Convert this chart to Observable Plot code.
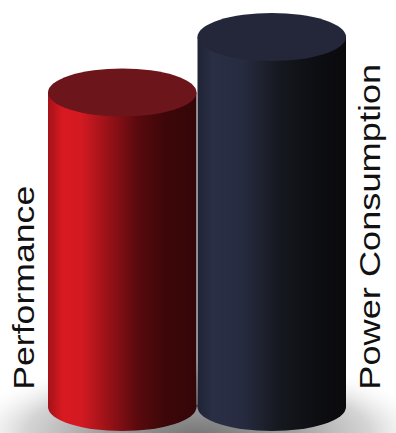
<!DOCTYPE html>
<html>
<head>
<meta charset="utf-8">
<script src="https://cdn.jsdelivr.net/npm/d3@7"></script>
<script src="https://cdn.jsdelivr.net/npm/@observablehq/plot@0.6"></script>
<style>
  html, body { margin: 0; padding: 0; background: #fff; }
  #chart svg { display: block; }
</style>
</head>
<body>
<div id="chart"></div>
<script>
// ---- data ----
const categories = ["Performance", "Power Consumption"];
const values = [85, 100];
const labels = ["Performance", "Power Consumption"];

// ---- styles ----
const bodyStops = [
  [[0, "#a3121a"], [0.1, "#d81920"], [0.22, "#d41a22"], [0.4, "#9a1218"], [0.6, "#5a0a0e"], [0.78, "#3e0709"], [1, "#340608"]],
  [[0, "#1f2335"], [0.1, "#2a2f46"], [0.3, "#272b40"], [0.55, "#16181f"], [0.8, "#0d0e12"], [1, "#0a0a0d"]]
];
const topColors = ["#6c151a", "#232739"];

const data = categories.map((c, i) => ({category: c, value: values[i], label: labels[i]}));

const plot = Plot.plot({
  width: 396,
  height: 433,
  marginLeft: 48,
  marginRight: 49,
  marginTop: 37,
  marginBottom: 26,
  x: {domain: categories, padding: 0, round: false, axis: null},
  y: {domain: [0, 100], axis: null},
  color: {type: "ordinal", domain: categories, range: categories.map((c, i) => `url(#body-${i})`)},
  style: {background: "transparent", overflow: "visible"},
  marks: [
    Plot.barY(data, {x: "category", y: "value", fill: "category", insetLeft: 0, insetRight: 1}),
    Plot.text(data.slice(0, 1), {x: "category", y: () => 4.8, text: "label", rotate: -90, textAnchor: "start", dx: -99,
      fontSize: 30, fontFamily: "Liberation Sans, Arial, sans-serif", fill: "#111"}),
    Plot.text(data.slice(1), {x: "category", y: () => 4.8, text: "label", rotate: -90, textAnchor: "start", dx: 98,
      fontSize: 30, fontFamily: "Liberation Sans, Arial, sans-serif", fill: "#111"})
  ]
});

document.getElementById("chart").appendChild(plot);

// ---- post-process: gradients, cylinder caps, shadow ----
const svg = d3.select(plot);
const xs = plot.scale("x"), ys = plot.scale("y");
const xApply = xs.apply ? xs.apply : (() => {
  const s = d3.scaleBand().domain(xs.domain).range(xs.range)
    .paddingInner(xs.paddingInner ?? 0).paddingOuter(xs.paddingOuter ?? 0).align(xs.align ?? 0.5);
  return s;
})();
const bw = xs.bandwidth;
const yApply = ys.apply ? ys.apply : d3.scaleLinear().domain(ys.domain).range(ys.range);

const defs = svg.insert("defs", ":first-child");
bodyStops.forEach((stops, i) => {
  const g = defs.append("linearGradient").attr("id", `body-${i}`).attr("x1", 0).attr("x2", 1).attr("y1", 0).attr("y2", 0);
  stops.forEach(([o, c]) => g.append("stop").attr("offset", o).attr("stop-color", c));
});
const sh = defs.append("radialGradient").attr("id", "shadow").attr("cx", 0.5).attr("cy", 0.5).attr("r", 0.5);
[[0, "#767676", 1], [0.4, "#a0a0a0", 1], [0.72, "#d0d0d0", 0.9], [1, "#ffffff", 0]].forEach(([o, c, a]) =>
  sh.append("stop").attr("offset", o).attr("stop-color", c).attr("stop-opacity", a));

const firstG = plot.querySelector("g");
const base = yApply(0);
const capRy = 24;

// shadow under the cylinders
const sx0 = xApply(categories[0]), sx1 = xApply(categories[categories.length - 1]) + bw;
svg.insert("ellipse", () => firstG)
  .attr("cx", (sx0 + sx1) / 2).attr("cy", base + capRy + 4)
  .attr("rx", (sx1 - sx0) / 2 + 90).attr("ry", 80)
  .attr("fill", "url(#shadow)");

// bottom ellipses (same gradient as bodies)
data.forEach((d, i) => {
  const x0 = xApply(d.category);
  const w = bw - 1;
  svg.insert("ellipse", () => firstG)
    .attr("cx", x0 + w / 2).attr("cy", base).attr("rx", w / 2).attr("ry", capRy)
    .attr("fill", `url(#body-${i})`);
});

// top caps
data.forEach((d, i) => {
  const x0 = xApply(d.category);
  const w = bw - 1;
  svg.append("ellipse")
    .attr("cx", x0 + w / 2).attr("cy", yApply(d.value)).attr("rx", w / 2).attr("ry", capRy)
    .attr("fill", topColors[i]);
});

// stretch the labels along their length as in the reference
const lengths = {"Performance": 204, "Power Consumption": 326};
svg.selectAll("text").each(function() {
  const t = this.textContent;
  if (lengths[t]) d3.select(this).attr("textLength", lengths[t]).attr("lengthAdjust", "spacingAndGlyphs");
});
</script>
</body>
</html>
